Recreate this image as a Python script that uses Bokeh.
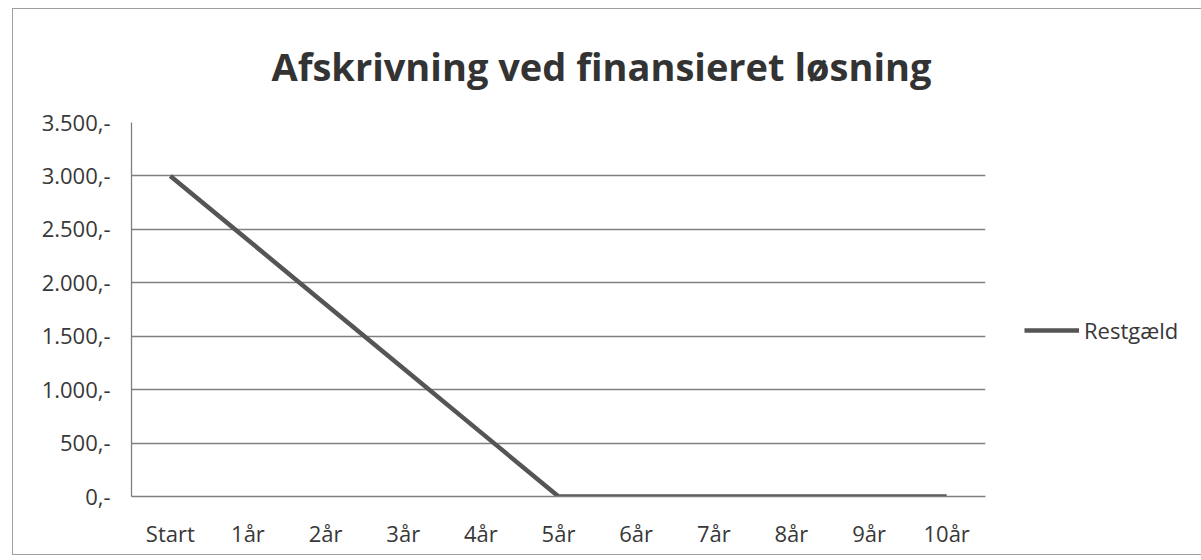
from bokeh.plotting import figure
from bokeh.models import FactorRange, Range1d, FixedTicker, Legend, LegendItem, ColumnDataSource
from bokeh.embed import file_html
from bokeh.resources import INLINE

categories = ["Start", "1år", "2år", "3år", "4år", "5år", "6år", "7år", "8år", "9år", "10år"]
restgaeld = [3000, 2400, 1800, 1200, 600, 0, 0, 0, 0, 0, 0]
y_ticks = [0, 500, 1000, 1500, 2000, 2500, 3000, 3500]
y_tick_labels = ["0,-", "500,-", "1.000,-", "1.500,-", "2.000,-", "2.500,-", "3.000,-", "3.500,-"]
title_text = "Afskrivning ved finansieret løsning"
series_name = "Restgæld"

FONT = "Open Sans"
TXT = "#383838"
GRID = "#808080"

p = figure(
    x_range=FactorRange(*categories, range_padding=0),
    y_range=Range1d(0, 3500),
    frame_width=854, frame_height=374,
    output_backend="svg", toolbar_location=None,
    min_border_left=118, min_border_right=210, min_border_top=113, min_border_bottom=58,
    background_fill_color="white", border_fill_color="white",
)
p.styles = {"margin-left": "12px", "margin-top": "8px", "border": "1px solid #a0a0a0"}
p.outline_line_color = None

p.title.text = title_text
p.title.text_font = FONT
p.title.text_font_size = "38px"
p.title.text_font_style = "bold"
p.title.text_color = "#333333"
p.title.align = "left"
p.title.offset = 140
p.title.vertical_align = "top"
p.title.standoff = 58

src = ColumnDataSource(dict(x=categories, y=restgaeld))
r = p.line("x", "y", source=src, line_color="#555555", line_width=4.5, line_join="round")

p.xgrid.grid_line_color = None
p.ygrid.grid_line_color = GRID
p.ygrid.grid_line_width = 1.3
p.yaxis.ticker = FixedTicker(ticks=y_ticks)
p.yaxis.major_label_overrides = {t: l for t, l in zip(y_ticks, y_tick_labels)}
for ax in (p.xaxis[0], p.yaxis[0]):
    ax.axis_line_color = GRID
    ax.axis_line_width = 1.3
    ax.major_tick_line_color = None
    ax.minor_tick_line_color = None
    ax.major_label_text_font = FONT
    ax.major_label_text_font_size = "22px"
    ax.major_label_text_color = TXT
p.yaxis.major_label_standoff = 15
p.xaxis.major_label_standoff = 15

legend = Legend(items=[LegendItem(label=series_name, renderers=[r])],
                location=(39, 151), padding=0, margin=0, border_line_color=None,
                background_fill_alpha=0, glyph_width=55, glyph_height=30, label_height=30,
                label_standoff=5, label_text_font=FONT, label_text_font_size="22px",
                label_text_color=TXT)
p.add_layout(legend, "right")

open("out.html", "w").write(file_html(p, INLINE))
